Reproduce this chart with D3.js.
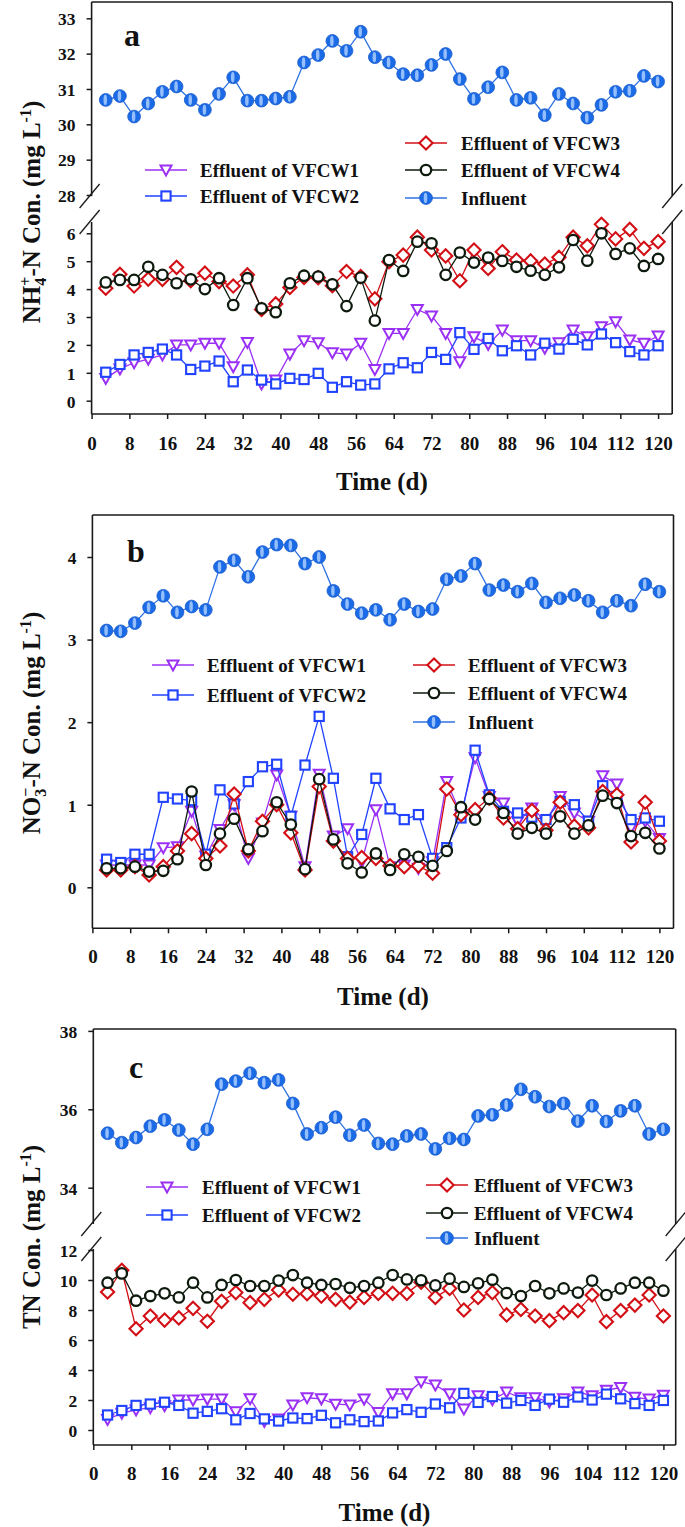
<!DOCTYPE html>
<html><head><meta charset="utf-8">
<script src="https://cdn.jsdelivr.net/npm/d3@7"></script>
<style>body{margin:0;background:#fff}svg text{font-family:"Liberation Serif","Times New Roman",serif;font-weight:bold}</style>
</head><body>
<svg id="chart" width="685" height="1527"></svg>
<script>
// ---------- data ----------
const days = [3,6,9,12,15,18,21,24,27,30,33,36,39,42,45,48,51,54,57,60,63,66,69,72,75,78,81,84,87,90,93,96,99,102,105,108,111,114,117,120];
const xTicks = [0,8,16,24,32,40,48,56,64,72,80,88,96,104,112,120];

const aUpperTicks = [28,29,30,31,32,33];
const aLowerTicks = [0,1,2,3,4,5,6];
const bTicks = [0,1,2,3,4];
const cUpperTicks = [34,36,38];
const cLowerTicks = [0,2,4,6,8,10,12];

const seriesNames = ["Effluent of VFCW1","Effluent of VFCW2","Effluent of VFCW3","Effluent of VFCW4","Influent"];

// Panel a: NH4+-N
const aInfluent = [30.69,30.80,30.22,30.59,30.92,31.07,30.69,30.41,30.86,31.33,30.67,30.67,30.73,30.78,31.75,31.96,32.36,32.08,32.62,31.90,31.75,31.42,31.39,31.68,31.99,31.28,30.72,31.05,31.47,30.69,30.75,30.26,30.86,30.59,30.19,30.55,30.92,30.95,31.37,31.21];
const aVFCW1 = [0.80,1.14,1.36,1.49,1.64,2.00,2.00,2.06,2.06,1.22,2.09,0.60,0.74,1.67,2.15,2.08,1.72,1.67,2.06,1.12,2.41,2.41,3.27,3.04,2.41,1.40,2.29,2.02,2.53,2.15,2.15,1.88,2.08,2.53,2.29,2.65,2.83,2.18,2.06,2.32];
const aVFCW2 = [1.02,1.30,1.64,1.73,1.85,1.64,1.12,1.24,1.42,0.68,1.10,0.74,0.60,0.80,0.76,0.98,0.48,0.68,0.56,0.60,1.14,1.36,1.18,1.73,1.48,2.44,1.84,2.23,1.79,1.97,1.64,2.06,1.85,2.20,2.00,2.39,2.08,1.76,1.64,1.97];
const aVFCW3 = [4.03,4.53,4.11,4.36,4.35,4.78,4.30,4.57,4.27,4.11,4.51,3.27,3.47,4.06,4.42,4.41,4.12,4.63,4.45,3.65,4.98,5.22,5.86,5.40,5.19,4.30,5.40,4.74,5.34,5.04,5.01,4.90,5.14,5.86,5.55,6.32,5.80,6.14,5.46,5.70];
const aVFCW4 = [4.24,4.33,4.33,4.80,4.51,4.21,4.35,4.00,4.39,3.43,4.39,3.31,3.17,4.21,4.48,4.45,4.17,3.39,4.41,2.87,5.04,4.65,5.70,5.64,4.51,5.31,4.95,5.13,5.01,4.80,4.66,4.51,4.78,5.76,5.02,6.00,5.26,5.46,4.83,5.08];

// Panel b: NO3--N
const bInfluent = [3.11,3.10,3.20,3.39,3.53,3.33,3.40,3.36,3.88,3.96,3.76,4.06,4.15,4.14,3.92,4.00,3.59,3.43,3.32,3.36,3.24,3.43,3.34,3.37,3.73,3.77,3.92,3.60,3.66,3.58,3.68,3.45,3.50,3.54,3.47,3.33,3.47,3.41,3.67,3.58];
const bVFCW1 = [0.27,0.27,0.27,0.27,0.48,0.49,0.92,0.38,0.70,1.00,0.35,0.78,1.36,0.86,0.25,1.37,0.62,0.71,0.31,0.94,0.25,0.27,0.23,0.31,1.28,0.88,1.57,1.10,1.02,0.80,0.96,0.80,1.10,0.90,0.80,1.35,1.25,0.72,0.80,0.59];
const bVFCW2 = [0.34,0.30,0.40,0.40,1.09,1.07,1.05,0.40,1.18,1.01,1.28,1.46,1.49,0.86,1.48,2.07,1.32,0.37,0.64,1.32,0.95,0.82,0.88,0.35,0.48,0.84,1.66,1.12,0.92,0.90,0.85,0.82,1.04,1.00,0.80,1.23,1.10,0.82,0.84,0.80];
const bVFCW3 = [0.21,0.21,0.25,0.15,0.25,0.44,0.65,0.35,0.50,1.13,0.44,0.80,1.00,0.66,0.21,1.22,0.56,0.35,0.36,0.35,0.26,0.25,0.26,0.17,1.19,0.88,0.94,1.08,0.84,0.71,0.93,0.69,1.03,0.74,0.72,1.16,1.12,0.55,1.03,0.56];
const bVFCW4 = [0.23,0.23,0.25,0.19,0.20,0.34,1.16,0.27,0.65,0.83,0.46,0.68,1.03,0.76,0.22,1.31,0.58,0.29,0.18,0.41,0.21,0.40,0.37,0.26,0.44,0.97,0.82,1.07,0.90,0.65,0.72,0.65,0.86,0.65,0.75,1.11,1.02,0.62,0.66,0.47];

// Panel c: TN
const cInfluent = [35.39,35.15,35.28,35.57,35.73,35.47,35.11,35.49,36.64,36.72,36.92,36.68,36.75,36.15,35.37,35.53,35.80,35.34,35.60,35.13,35.11,35.32,35.37,34.99,35.26,35.23,35.83,35.86,36.11,36.51,36.32,36.07,36.15,35.70,36.09,35.69,35.96,36.09,35.37,35.49];
const cVFCW1 = [0.70,1.12,1.34,1.49,1.62,2.00,2.00,2.06,2.06,1.22,2.09,0.58,0.74,1.67,2.15,2.08,1.72,1.67,2.06,1.16,2.41,2.41,3.22,3.00,2.41,1.40,2.29,2.02,2.53,2.15,2.15,1.88,2.08,2.53,2.29,2.65,2.83,2.18,2.06,2.32];
const cVFCW2 = [1.00,1.30,1.64,1.73,1.85,1.64,1.12,1.24,1.42,0.68,1.10,0.74,0.60,0.80,0.76,0.98,0.48,0.68,0.56,0.60,1.14,1.36,1.18,1.73,1.48,2.44,1.84,2.23,1.79,1.97,1.64,2.06,1.85,2.20,2.00,2.39,2.08,1.76,1.64,1.97];
const cVFCW3 = [9.20,10.65,6.75,7.60,7.33,7.47,8.11,7.25,8.58,9.16,8.49,8.71,9.33,9.05,9.09,8.93,8.71,8.53,8.84,9.11,9.11,9.11,9.85,8.84,9.44,8.00,8.84,9.16,7.67,8.04,7.60,7.29,7.82,7.96,9.00,7.22,7.96,8.33,9.00,7.60];
const cVFCW4 = [9.82,10.44,8.62,8.93,9.11,8.84,9.82,8.84,9.67,10.00,9.60,9.60,9.96,10.33,9.82,9.67,9.73,9.48,9.60,9.82,10.33,10.04,9.98,9.64,10.09,9.54,9.78,10.02,9.13,8.93,9.60,9.11,9.44,9.16,9.96,9.00,9.44,9.82,9.82,9.29];

// ---------- styles ----------
const styles = {
  "Effluent of VFCW1": {color:"#9b30f5", sym:"tri"},
  "Effluent of VFCW2": {color:"#2143ff", sym:"sq"},
  "Effluent of VFCW3": {color:"#d30f16", sym:"dia"},
  "Effluent of VFCW4": {color:"#0d1a0d", sym:"cir"},
  "Influent":          {color:"#2f72e4", sym:"inf"}
};
const drawOrder = ["Effluent of VFCW1","Effluent of VFCW2","Effluent of VFCW3","Effluent of VFCW4","Influent"];

const svg = d3.select("#chart");

function marker(g, sym, color){
  if(sym==="tri") g.append("path").attr("d","M-5.5,-4.5L5.5,-4.5L0,5.5Z").attr("fill","#fff").attr("stroke",color).attr("stroke-width",2).attr("stroke-linejoin","miter");
  else if(sym==="sq") g.append("rect").attr("x",-4.6).attr("y",-4.6).attr("width",9.2).attr("height",9.2).attr("fill","#fff").attr("stroke",color).attr("stroke-width",2.1);
  else if(sym==="dia") g.append("path").attr("d","M0,-6.6L6.6,0L0,6.6L-6.6,0Z").attr("fill","#fff").attr("stroke",color).attr("stroke-width",2.1);
  else if(sym==="cir") g.append("circle").attr("r",5.2).attr("fill","#fff").attr("stroke",color).attr("stroke-width",2.3);
  else if(sym==="inf"){
    g.append("circle").attr("r",6.4).attr("fill","#1b6ae6").attr("stroke","#1a5ccc").attr("stroke-width",0.8);
    g.append("ellipse").attr("cx",-0.5).attr("rx",1.8).attr("ry",5.2).attr("fill","#a9cdff").attr("opacity",0.85);
  }
}

function drawPanel(p){
  const g = svg.append("g");
  const x = d3.scaleLinear().domain([0,120]).range([p.x0,p.x1]);
  const segs = p.segments.map(s => ({...s, scale:d3.scaleLinear().domain(s.dom).range(s.rng)}));

  // frame
  const fr = g.append("g").attr("stroke","#1a1a1a").attr("stroke-width",1.6).attr("fill","none");
  fr.append("line").attr("x1",p.left).attr("x2",p.right).attr("y1",p.top).attr("y2",p.top);
  fr.append("line").attr("x1",p.left).attr("x2",p.right).attr("y1",p.bottom).attr("y2",p.bottom);
  segs.forEach(s=>{
    fr.append("line").attr("x1",p.left).attr("x2",p.left).attr("y1",s.y0).attr("y2",s.y1);
    fr.append("line").attr("x1",p.right).attr("x2",p.right).attr("y1",s.y0).attr("y2",s.y1);
  });
  (p.breaks||[]).forEach(by=>{
    [p.left-2,p.right].forEach(bx=>{
      fr.append("line").attr("x1",bx-10).attr("y1",by+12).attr("x2",bx+10).attr("y2",by-12).attr("stroke-width",1.3);
    });
  });

  // axes
  segs.forEach(s=>{
    const ax = g.append("g").attr("transform",`translate(${p.left},0)`)
      .call(d3.axisLeft(s.scale).tickValues(s.ticks).tickSize(5).tickFormat(d3.format("d")));
    ax.select(".domain").remove();
    ax.selectAll(".tick line").attr("stroke","#1a1a1a").attr("stroke-width",1.5);
    ax.selectAll(".tick text").attr("x",-16).attr("dy","0.36em").attr("font-size",17.5).attr("fill","#111")
      .attr("font-family","Liberation Serif").attr("font-weight","bold");
  });
  const xa = g.append("g").attr("transform",`translate(0,${p.bottom})`)
    .call(d3.axisBottom(x).tickValues(xTicks).tickSize(5).tickFormat(d3.format("d")));
  xa.select(".domain").remove();
  xa.selectAll(".tick line").attr("stroke","#1a1a1a").attr("stroke-width",1.5);
  xa.selectAll(".tick text").attr("y",p.xTickDy).attr("dy",0).attr("font-size",19).attr("fill","#111")
    .attr("font-family","Liberation Serif").attr("font-weight","bold");

  // series
  drawOrder.forEach(name=>{
    const st = styles[name];
    const vals = p.data[name];
    const sc = segs[p.segOf[name]].scale;
    const pts = days.map((d,i)=>({d, v:vals[i]}));
    g.append("path").datum(pts)
      .attr("d", d3.line().x(q=>x(q.d)).y(q=>sc(q.v)))
      .attr("fill","none").attr("stroke",st.color).attr("stroke-width",1.3);
    const mg = g.append("g");
    pts.forEach(q=>{
      const m = mg.append("g").attr("transform",`translate(${x(q.d)},${sc(q.v)})`);
      marker(m, st.sym, st.color);
    });
  });

  // panel letter
  g.append("text").attr("x",p.letterPos[0]).attr("y",p.letterPos[1]).attr("font-size",32).attr("fill","#111").text(p.letter);

  // legend
  p.legend.forEach(it=>{
    const st = styles[it.name];
    g.append("line").attr("x1",it.mx-21).attr("x2",it.mx+21).attr("y1",it.y).attr("y2",it.y)
      .attr("stroke",st.color).attr("stroke-width",1.3);
    marker(g.append("g").attr("transform",`translate(${it.mx},${it.y})`), st.sym, st.color);
    g.append("text").attr("x",it.tx).attr("y",it.y+6.5).attr("font-size",19).attr("fill","#111").text(it.name);
  });

  // titles
  g.append("text").attr("x",(p.left+p.right)/2).attr("y",p.xTitleY).attr("text-anchor","middle")
    .attr("font-size",25).attr("fill","#111").text("Time (d)");
  const yt = g.append("text").attr("transform",`translate(40,${p.yTitleY}) rotate(-90)`)
    .attr("text-anchor","middle").attr("font-size",25).attr("fill","#111");
  p.yTitle(yt);
}

drawPanel({
  letter:"a", letterPos:[124,46],
  left:91.6, right:672.2, top:2, bottom:414, x0:91.6, x1:658.1,
  segments:[
    {dom:[28,33], rng:[195,18.3], ticks:aUpperTicks, y0:2, y1:196},
    {dom:[0,6], rng:[400.7,233.3], ticks:aLowerTicks, y0:222, y1:414}
  ],
  breaks:[196,222],
  segOf:{"Influent":0,"Effluent of VFCW1":1,"Effluent of VFCW2":1,"Effluent of VFCW3":1,"Effluent of VFCW4":1},
  data:{"Influent":aInfluent,"Effluent of VFCW1":aVFCW1,"Effluent of VFCW2":aVFCW2,"Effluent of VFCW3":aVFCW3,"Effluent of VFCW4":aVFCW4},
  xTickDy:35.5, xTitleY:490, yTitleY:212,
  legend:[
    {name:seriesNames[0], mx:166, tx:200, y:170},
    {name:seriesNames[1], mx:166, tx:200, y:196},
    {name:seriesNames[2], mx:426, tx:461, y:143},
    {name:seriesNames[3], mx:426, tx:461, y:170},
    {name:seriesNames[4], mx:426, tx:461, y:198}
  ],
  yTitle:t=>{
    t.append("tspan").text("NH");
    t.append("tspan").attr("font-size",16).attr("dy",6).text("4");
    t.append("tspan").attr("font-size",16).attr("dx",-8).attr("dy",-15).text("+");
    t.append("tspan").attr("dy",9).text("-N Con. (mg L");
    t.append("tspan").attr("font-size",16).attr("dy",-9).text("-1");
    t.append("tspan").attr("dy",9).text(")");
  }
});

drawPanel({
  letter:"b", letterPos:[127,562],
  left:92.4, right:673.5, top:515, bottom:928.3, x0:92.4, x1:659.4,
  segments:[
    {dom:[0,4], rng:[887.3,557], ticks:bTicks, y0:515, y1:928.3}
  ],
  breaks:[],
  segOf:{"Influent":0,"Effluent of VFCW1":0,"Effluent of VFCW2":0,"Effluent of VFCW3":0,"Effluent of VFCW4":0},
  data:{"Influent":bInfluent,"Effluent of VFCW1":bVFCW1,"Effluent of VFCW2":bVFCW2,"Effluent of VFCW3":bVFCW3,"Effluent of VFCW4":bVFCW4},
  xTickDy:35, xTitleY:1005, yTitleY:723,
  legend:[
    {name:seriesNames[0], mx:173, tx:207, y:665},
    {name:seriesNames[1], mx:173, tx:207, y:695},
    {name:seriesNames[2], mx:434, tx:468, y:665},
    {name:seriesNames[3], mx:434, tx:468, y:693},
    {name:seriesNames[4], mx:434, tx:468, y:722}
  ],
  yTitle:t=>{
    t.append("tspan").text("NO");
    t.append("tspan").attr("font-size",16).attr("dy",6).text("3");
    t.append("tspan").attr("font-size",16).attr("dx",-8).attr("dy",-15).text("−");
    t.append("tspan").attr("dy",9).text("-N Con. (mg L");
    t.append("tspan").attr("font-size",16).attr("dy",-9).text("-1");
    t.append("tspan").attr("dy",9).text(")");
  }
});

drawPanel({
  letter:"c", letterPos:[129,1078],
  left:93.3, right:675.7, top:1029, bottom:1445, x0:93.3, x1:663.4,
  segments:[
    {dom:[34,38], rng:[1187.7,1030.9], ticks:cUpperTicks, y0:1029, y1:1224},
    {dom:[0,12], rng:[1430,1250], ticks:cLowerTicks, y0:1249, y1:1445}
  ],
  breaks:[1224,1249],
  segOf:{"Influent":0,"Effluent of VFCW1":1,"Effluent of VFCW2":1,"Effluent of VFCW3":1,"Effluent of VFCW4":1},
  data:{"Influent":cInfluent,"Effluent of VFCW1":cVFCW1,"Effluent of VFCW2":cVFCW2,"Effluent of VFCW3":cVFCW3,"Effluent of VFCW4":cVFCW4},
  xTickDy:35, xTitleY:1521, yTitleY:1237,
  legend:[
    {name:seriesNames[0], mx:167, tx:202, y:1187},
    {name:seriesNames[1], mx:167, tx:202, y:1215},
    {name:seriesNames[2], mx:447, tx:474, y:1185},
    {name:seriesNames[3], mx:447, tx:474, y:1213},
    {name:seriesNames[4], mx:447, tx:474, y:1238}
  ],
  yTitle:t=>{
    t.append("tspan").text("TN Con. (mg L");
    t.append("tspan").attr("font-size",16).attr("dy",-9).text("-1");
    t.append("tspan").attr("dy",9).text(")");
  }
});
</script>
</body></html>
